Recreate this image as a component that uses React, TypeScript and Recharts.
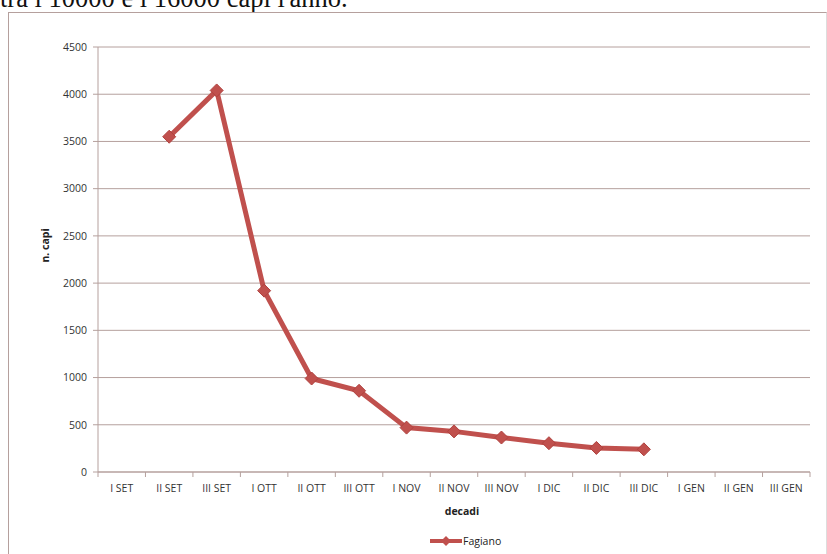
import { LineChart, Line, XAxis, YAxis, CartesianGrid } from "recharts";

const decadi = [
  "I SET", "II SET", "III SET", "I OTT", "II OTT", "III OTT", "I NOV", "II NOV",
  "III NOV", "I DIC", "II DIC", "III DIC", "I GEN", "II GEN", "III GEN",
];
const fagiano = [null, 3550, 4040, 1920, 990, 860, 470, 430, 365, 305, 255, 240, null, null, null];
const yTicks = [0, 500, 1000, 1500, 2000, 2500, 3000, 3500, 4000, 4500];

const data = decadi.map((d, i) => ({ decade: d, Fagiano: fagiano[i] }));

const RED = "#c0504d";
const AXIS = "#b5a09d";
const FONT = "'Open Sans', 'Liberation Sans', sans-serif";

const CHART_W = 818;
const CHART_H = 560;
const M = { top: 35, right: 16, left: 0, bottom: 40 };
const Y_W = 90;
const BAND = (CHART_W - M.left - M.right - Y_W) / decadi.length;

function Diamond(props: any) {
  const { cx, cy, value } = props;
  if (value == null || cx == null || cy == null) return null;
  const r = 6.5;
  return (
    <path
      d={`M${cx},${cy - r} L${cx + r},${cy} L${cx},${cy + r} L${cx - r},${cy} Z`}
      fill={RED}
      stroke="#b0413e"
      strokeWidth={1}
    />
  );
}

function XTick(props: any) {
  const { x, y, payload, index } = props;
  const left = x - BAND / 2;
  return (
    <g>
      <line x1={left} y1={y - 8} x2={left} y2={y - 3} stroke={AXIS} />
      {index === decadi.length - 1 && (
        <line x1={x + BAND / 2} y1={y - 8} x2={x + BAND / 2} y2={y - 3} stroke={AXIS} />
      )}
      <text x={x} y={y + 12} textAnchor="middle" fontSize={10.5} fill="#333" fontFamily={FONT}>
        {payload.value}
      </text>
    </g>
  );
}

function YLabel(props: any) {
  const { viewBox } = props;
  const cx = 37;
  const cy = viewBox.y + viewBox.height / 2 - 14;
  return (
    <text
      x={cx}
      y={cy}
      transform={`rotate(-90 ${cx} ${cy})`}
      textAnchor="middle"
      dominantBaseline="central"
      fontSize={10.5}
      fontWeight="bold"
      fill="#222"
      fontFamily={FONT}
    >
      n. capi
    </text>
  );
}

function XLabel(props: any) {
  const { viewBox } = props;
  return (
    <text
      x={viewBox.x + viewBox.width / 2 + 8}
      y={viewBox.y + 39}
      textAnchor="middle"
      dominantBaseline="central"
      fontSize={10.5}
      fontWeight="bold"
      fill="#222"
      fontFamily={FONT}
    >
      decadi
    </text>
  );
}

function LegendBox() {
  return (
    <div style={{ display: "flex", alignItems: "center" }}>
      <svg width={32} height={12}>
        <line x1={0} y1={6} x2={32} y2={6} stroke={RED} strokeWidth={4} />
        <path d="M16,1 L21,6 L16,11 L11,6 Z" fill={RED} />
      </svg>
      <span style={{ fontSize: 10.5, fontFamily: FONT, color: "#222", marginLeft: 1 }}>Fagiano</span>
    </div>
  );
}

export default function App() {
  return (
    <div style={{ position: "fixed", left: 0, top: 0, width: 827, height: 554, overflow: "hidden", background: "#fff" }}>
      <div
        style={{
          position: "absolute",
          left: 0,
          top: -17,
          fontFamily: "'Liberation Serif', 'Times New Roman', serif",
          fontSize: 26.5,
          color: "#111",
          whiteSpace: "nowrap",
          lineHeight: "30px",
        }}
      >
        tra i 10000 e i 16000 capi l'anno.
      </div>
      <div
        style={{
          position: "absolute",
          left: 8,
          top: 12,
          width: CHART_W - 1,
          height: CHART_H,
          borderLeft: `1px solid ${AXIS}`,
          borderTop: `1px solid ${AXIS}`,
          borderRight: `1px solid #ddd`,
        }}
      />
      <div style={{ position: "absolute", left: 8, top: 12 }}>
        <LineChart width={CHART_W} height={CHART_H} data={data} margin={M}>
          <CartesianGrid horizontal vertical={false} stroke={AXIS} strokeWidth={1} />
          <XAxis
            dataKey="decade"
            interval={0}
            stroke={AXIS}
            tickLine={false}
            tick={<XTick />}
            label={<XLabel />}
            height={60}
            padding={{ left: BAND / 2, right: BAND / 2 }}
          />
          <YAxis
            domain={[0, 4500]}
            ticks={yTicks}
            width={Y_W}
            stroke={AXIS}
            tickSize={5}
            tickMargin={6}
            tick={{ fontSize: 10.5, fill: "#333", fontFamily: FONT }}
            label={<YLabel />}
          />
          <Line
            type="linear"
            dataKey="Fagiano"
            stroke={RED}
            strokeWidth={5}
            dot={<Diamond />}
            activeDot={false}
            isAnimationActive={false}
          />
        </LineChart>
      </div>
      <div style={{ position: "absolute", left: 430, top: 534 }}>
        <LegendBox />
      </div>
    </div>
  );
}
